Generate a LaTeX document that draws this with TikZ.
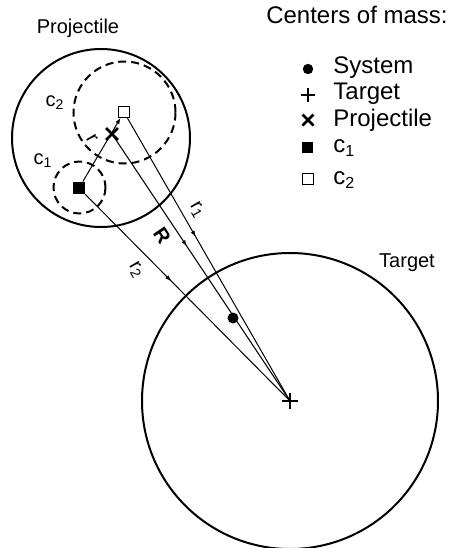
\documentclass[tikz,border=0pt]{standalone}
\usepackage{fontspec}
\setmainfont{Liberation Sans}
\usetikzlibrary{shapes.misc,arrows.meta,decorations.markings}

\tikzset{
    body/.style={
        draw=black,
        line width=1pt
    },
    subbody/.style={
        draw=black,
        line width=1pt,
        dash pattern=on 4pt off 2.5pt
    },
    vecline/.style={
        draw=black,
        line width=0.5pt,
        postaction={decorate},
        decoration={markings,
            mark=at position 0.42 with {\arrow{Latex[length=3pt,width=2.2pt]}}}
    },
    dotmark/.style={circle, fill=black, inner sep=0pt, minimum size=#1},
    dotmark/.default=5.5pt,
    crossmark/.style={cross out, draw=black, line width=1.3pt, inner sep=0pt, minimum size=#1},
    crossmark/.default=4.6pt,
    plusmark/.style={crossmark=#1, rotate=45},
    plusmark/.default=4.5pt,
    fullsq/.style={rectangle, fill=black, inner sep=0pt, minimum size=#1},
    fullsq/.default=6pt,
    opensq/.style={rectangle, draw=black, fill=white, line width=0.4pt, inner sep=0pt, minimum size=#1},
    opensq/.default=5.5pt,
    lbl/.style={font=\fontsize{10}{12}\selectfont, inner sep=0.5pt},
    legend/.style={font=\fontsize{12}{14}\selectfont, anchor=west, inner sep=0pt}
}

\begin{document}
\begin{tikzpicture}[x=0.5pt, y=-0.5pt]

        \useasboundingbox (0,0) rectangle (452,548);

        % Centros de masa
        \coordinate (T) at (290,401);
        \coordinate (S) at (233,318);
        \coordinate (P) at (112,134);

        % =====================================================
        % CUERPOS
        % =====================================================

        % Proyectil y sus partes
        \draw[body] (101,138) circle[radius=89];
        \draw[subbody] (124.5,112.5) circle[radius=51];
        \draw[subbody] (79.5,187.5) circle[radius=26];

        % Blanco
        \draw[body] (T) circle[radius=148];

        % =====================================================
        % VECTORES
        % =====================================================

        \node[fullsq] (cone) at (79,188) {};
        \node[opensq] (ctwo) at (124,112) {};

        \draw[vecline] (ctwo) -- (T);
        \draw[vecline] (P) -- (T);
        \draw[vecline] (cone) -- (T);
        \draw[
            line width=0.5pt,
            -{Latex[length=3pt,width=2.2pt]}
        ] (cone) -- (ctwo);

        % marcas encima de las lineas
        \node[fullsq] at (cone) {};
        \node[opensq] at (ctwo) {};
        \node[crossmark] (mproj) at (P) {};
        \node[dotmark] (msys) at (S) {};
        \node[plusmark] (mtarget) at (T) {};

        % etiquetas de los vectores
        \node[lbl, rotate=-60] (lr) at (92,139) {r};
        \node[lbl, rotate=-60] (lrone) at (197,210) {r\textsubscript{1}};
        \node[lbl, rotate=-56] (lR) at (162,236) {\textbf{R}};
        \node[lbl, rotate=-60] (lrtwo) at (136,270) {r\textsubscript{2}};

        % nombres
        \node[lbl] (lproj) at (78,28) {Projectile};
        \node[lbl] (ltarget) at (407,263) {Target};
        \node[lbl] (lctwo) at (55,103) {c\textsubscript{2}};
        \node[lbl] (lcone) at (43,161) {c\textsubscript{1}};

        % =====================================================
        % LEYENDA
        % =====================================================

        \node[font=\fontsize{12}{14}\selectfont] (ltitle) at (357,15) {Centers of mass:};

        \node[dotmark=5.2pt] (kone) at (308,69) {};
        \node[legend] at (333,68) {System};

        \node[plusmark=3.9pt] (ktwo) at (308,95) {};
        \node[legend] at (333,94) {Target};

        \node[crossmark=4.2pt] (kthree) at (308,120) {};
        \node[legend] at (333,120) {Projectile};

        \node[fullsq=5.5pt] (kfour) at (308,147) {};
        \node[legend] at (333,148) {c\textsubscript{1}};

        \node[opensq=5.2pt] (kfive) at (308,179) {};
        \node[legend] at (333,180) {c\textsubscript{2}};

\end{tikzpicture}
\end{document}
